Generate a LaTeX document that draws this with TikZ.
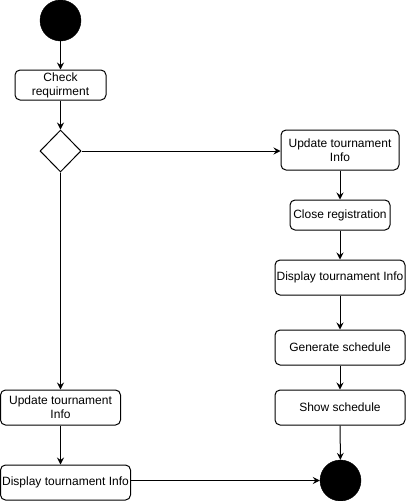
\documentclass[tikz,border=0pt]{standalone}
\usepackage{fontspec}
\setmainfont{Liberation Sans}
\usetikzlibrary{arrows.meta,shapes.geometric}
\begin{document}
\begin{tikzpicture}[x=1pt,y=-1pt,
  act/.style={draw,rounded corners=5pt,line width=1pt,align=center,font=\fontsize{12}{14}\selectfont,inner sep=0pt},
  dot/.style={circle,fill=black,draw=black,inner sep=0pt,minimum size=41pt},
  dec/.style={diamond,draw,line width=1pt,inner sep=0pt,minimum width=41pt,minimum height=42pt},
  flow/.style={line width=1pt,-{Stealth[length=7pt,width=7pt,inset=2.5pt]}}]
\useasboundingbox (0,0) rectangle (406,501);
\node[dot] (start) at (60.5,20.5) {};
\node[act,minimum width=91pt,minimum height=30pt] (check) at (60.5,85) {Check\\requirment};
\node[dec] (dec) at (60.5,151) {};
\node[act,minimum width=118pt,minimum height=40pt] (upr) at (340,150) {Update tournament\\Info};
\node[act,minimum width=100pt,minimum height=30pt] (close) at (340,215) {Close registration};
\node[act,minimum width=130pt,minimum height=35pt] (dispr) at (340,277.5) {Display tournament Info};
\node[act,minimum width=130pt,minimum height=35pt] (gen) at (340,347.5) {Generate schedule};
\node[act,minimum width=130pt,minimum height=35pt] (show) at (340,407.5) {Show schedule};
\node[dot] (end) at (340.5,480.5) {};
\node[act,minimum width=120pt,minimum height=35pt] (upl) at (60.5,407.5) {Update tournament\\Info};
\node[act,minimum width=130pt,minimum height=35pt] (displ) at (65.5,482.5) {Display tournament Info};
\draw[flow] (start) -- (check);
\draw[flow] (check) -- (dec);
\draw[flow] (dec.east) -- (upr.west |- dec.east);
\draw[flow] (dec.south) -- (upl.north);
\draw[flow] (upl.south) -- (upl.south |- displ.north);
\draw[flow] (displ.east |- end.west) -- (end.west);
\draw[flow] (upr) -- (close);
\draw[flow] (close) -- (dispr);
\draw[flow] (dispr) -- (gen);
\draw[flow] (gen) -- (show);
\draw[flow] (show) -- (end);
\end{tikzpicture}
\end{document}
